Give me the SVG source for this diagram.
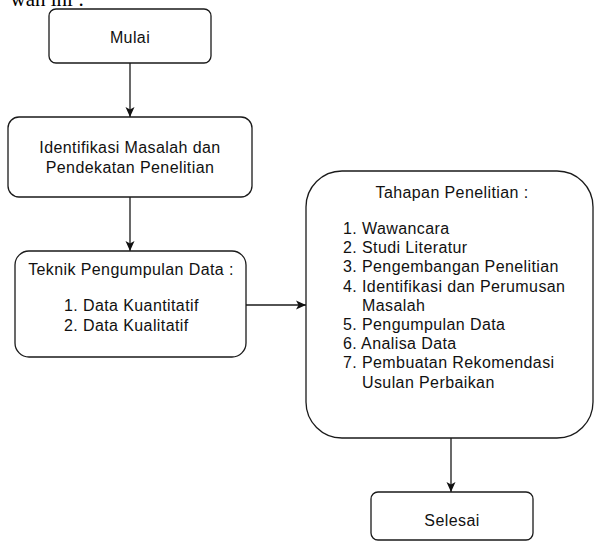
<svg xmlns="http://www.w3.org/2000/svg" width="594" height="542" viewBox="0 0 594 542">
<style>
.box{fill:#fff;stroke:#1a1a1a;stroke-width:1.3}
.t{font-family:"Liberation Sans",Arial,sans-serif;font-size:16px;fill:#111;letter-spacing:0.4px}
.c{text-anchor:middle}
.edge{stroke:#1a1a1a;stroke-width:1.3;fill:none}
</style>
<defs>
<marker id="arr" markerUnits="userSpaceOnUse" markerWidth="12" markerHeight="12" viewBox="0 0 12 12" refX="11" refY="6" orient="auto">
<path d="M1,1.5 L11,6 L1,10.5 L3.5,6 z" fill="#111"/>
</marker>
</defs>
<rect width="594" height="542" fill="#fff"/>
<text x="84" y="6" text-anchor="end" style="font-family:'Liberation Serif','Times New Roman',serif;font-size:21px;fill:#000">wan ini :</text>
<g id="connectors">
<line class="edge" x1="130" y1="63" x2="130" y2="117" marker-end="url(#arr)"/>
<line class="edge" x1="130" y1="197" x2="130" y2="251" marker-end="url(#arr)"/>
<line class="edge" x1="246" y1="305" x2="306" y2="305" marker-end="url(#arr)"/>
<line class="edge" x1="451" y1="438" x2="451" y2="492" marker-end="url(#arr)"/>
</g>
<g id="mulai">
<rect class="box" x="49" y="9" width="162" height="54" rx="7"/>
<text class="t c" x="130" y="43">Mulai</text>
</g>
<g id="identifikasi">
<rect class="box" x="8" y="117" width="244" height="80" rx="11"/>
<text class="t c" x="130" y="153">Identifikasi Masalah dan</text>
<text class="t c" x="130" y="172.5">Pendekatan Penelitian</text>
</g>
<g id="teknik">
<rect class="box" x="15" y="251" width="231" height="106" rx="14"/>
<text class="t c" x="131" y="275">Teknik Pengumpulan Data :</text>
<text class="t" x="64" y="311">1. Data Kuantitatif</text>
<text class="t" x="64" y="330.5">2. Data Kualitatif</text>
</g>
<g id="tahapan">
<rect class="box" x="306" y="171" width="287" height="267" rx="36"/>
<text class="t c" x="452" y="198">Tahapan Penelitian :</text>
<text class="t" x="343" y="234">1. Wawancara</text>
<text class="t" x="343" y="253.2">2. Studi Literatur</text>
<text class="t" x="343" y="272.4">3. Pengembangan Penelitian</text>
<text class="t" x="343" y="291.6">4. Identifikasi dan Perumusan</text>
<text class="t" x="362" y="310.8">Masalah</text>
<text class="t" x="343" y="330">5. Pengumpulan Data</text>
<text class="t" x="343" y="349.2">6. Analisa Data</text>
<text class="t" x="343" y="368.4">7. Pembuatan Rekomendasi</text>
<text class="t" x="362" y="387.6">Usulan Perbaikan</text>
</g>
<g id="selesai">
<rect class="box" x="371" y="492" width="162" height="48" rx="7"/>
<text class="t c" x="452" y="526">Selesai</text>
</g>
</svg>
